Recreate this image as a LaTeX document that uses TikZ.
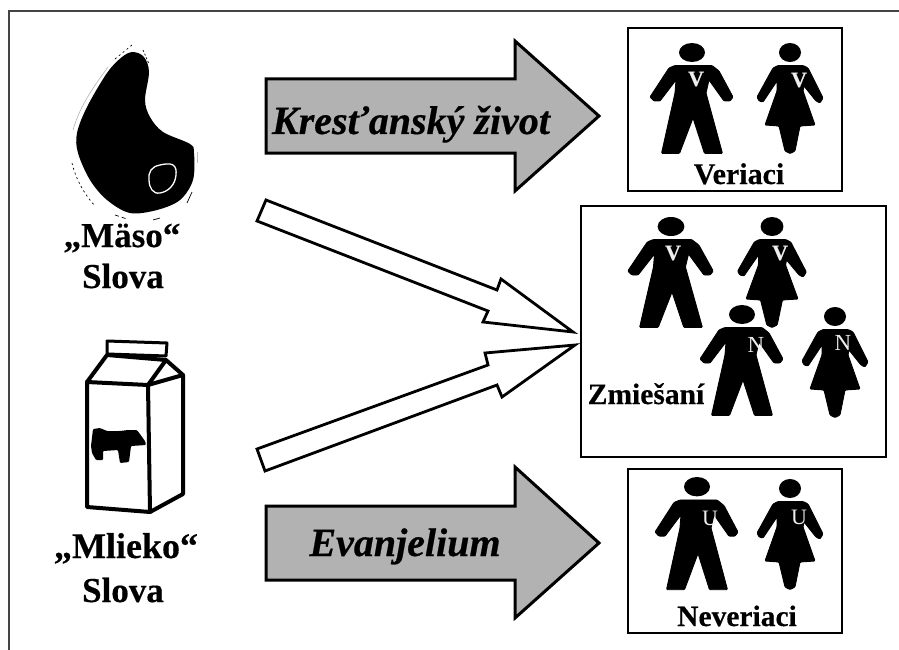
\documentclass[tikz,border=0pt]{standalone}
\usepackage{fontspec}
\setmainfont{Liberation Serif}[BoldFeatures={FakeBold=0.4},BoldItalicFeatures={FakeBold=0.5}]
\definecolor{framegray}{HTML}{444444}
\definecolor{arrowgray}{HTML}{B2B2B2}
\definecolor{badgewhite}{HTML}{EEEEEE}
\tikzset{
  x=1pt,y=-1pt,
  frameline/.style={draw=framegray,line width=2.7pt},
  boxframe/.style={draw=black,line width=1.9pt,fill=white},
  grayarrow/.style={draw=black,fill=arrowgray,line width=3pt,line join=miter},
  whitearrow/.style={draw=black,fill=white,line width=2.8pt,line join=miter},
  carton/.style={draw=black,line width=4pt,line join=round},
  figfill/.style={fill=black,draw=black,line width=.9pt,line join=round},
  lbl/.style={font=\fontsize{#1}{#1}\bfseries\selectfont,anchor=base,inner sep=0pt},
  ilbl/.style={font=\fontsize{#1}{#1}\bfseries\itshape\selectfont,anchor=base,inner sep=0pt},
  badge/.style={font=\fontsize{#1}{#1}\selectfont,anchor=center,inner sep=0pt,text=badgewhite},
}
\newcommand{\manfig}[4]{% centre x, top y, xscale, yscale
  \begin{scope}[shift={(#1,#2)},xscale=#3,yscale=#4]
    \fill[black] (0,9.5) ellipse [x radius=13,y radius=9.5];
    \filldraw[figfill,rounded corners=1pt] (0,22.5)--(20,22.5)--(27,28)--(41,54)--(38,58)--(32,58)--(17,37)--(14,50)--(30.5,110.5)--(12.5,110.5)--(1,75)--(-12.5,110.5)--(-30.5,110.5)--(-17,50)--(-16,37)--(-32,58)--(-38,58)--(-42,54)--(-23,25)--(-17,22.5)--cycle;
  \end{scope}}
\newcommand{\womanfig}[4]{%
  \begin{scope}[shift={(#1,#2)},xscale=#3,yscale=#4]
    \fill[black] (0,9.5) ellipse [x radius=11,y radius=9.5];
    \filldraw[figfill,rounded corners=1pt] (-12,22.5)--(13,22.5)--(18,25)--(33,55)--(30,60)--(26,58)--(14,43)--(13,48)--(25,82)--(10,83)--(5,108)--(0,110.5)--(-5,108)--(-11,83)--(-25,82)--(-13,48)--(-13,38)--(-27,59)--(-31,58)--(-33,54)--(-17,25)--cycle;
  \end{scope}}
\begin{document}
\begin{tikzpicture}
\useasboundingbox (0,0) rectangle (899,650);
\fill[white] (0,0) rectangle (899,650);
% outer frame (open at right and bottom)
\draw[frameline] (899,11) -- (9,11) -- (9,650);

% meat
\fill[black] plot[smooth cycle,tension=0.55] coordinates {(133,52)(144,57)(149,72)(145,100)(150,117)(163,132)(190,144)(194,153)(193,180)(180,200)(157,210)(130,213)(107,200)(90,180)(78,153)(77,133)(87,107)(107,73)(122,57)};
\draw[white,line width=1.3pt] plot[smooth cycle,tension=0.7] coordinates {(151,170)(160,165)(173,165)(176,175)(171,187)(160,193)(152,190)(149,180)};
\draw[gray!60,line width=.6pt] (73,130) .. controls (80,105) and (95,85) .. (108,67);
\draw[black,line width=.7pt,dash pattern=on 2pt off 3pt] (72,163) .. controls (76,180) and (85,195) .. (95,206);
\draw[black,line width=.7pt,dash pattern=on 2pt off 3pt] (115,59) -- (132,45);
\draw[black,line width=.7pt,dash pattern=on 2pt off 2pt] (143,50) -- (149,64);
\draw[black,line width=.7pt] (187,203) -- (192,192);
\draw[black,line width=.7pt,dash pattern=on 4pt off 3pt] (115,215) -- (127,219);
\draw[black,line width=.7pt] (153,220) -- (160,218);
\draw[gray!50,line width=.6pt] (197,152) -- (197,163);
\node[lbl=35] (masoA) at (122,247) {„Mäso“};
\node[lbl=35] (masoB) at (123,288) {Slova};

% milk carton
\draw[carton,line width=3pt] (107,341) -- (167,343) -- (166,356) -- (107,354) -- cycle;
\draw[carton,fill=white] (87,382) -- (148,385) -- (150,512) -- (87,507) -- cycle;
\draw[carton] (148,385) -- (183,375) -- (183,494) -- (150,512);
\draw[carton] (87,382) -- (107,355) -- (166,360) -- (148,385);
\draw[carton] (166,360) -- (183,375);
\fill[black,rounded corners=1pt] (93,429)--(100,428)--(107,431)--(120,431)--(128,430)--(137,430)--(145,441)--(146,445)--(131,446)--(129,462)--(120,463)--(118,450)--(103,451)--(103,460)--(96,460)--(92,453)--(91,446)--cycle;
\node[lbl=36] (milkA) at (126,558) {„Mlieko“};
\node[lbl=35] (milkB) at (123,602) {Slova};

% gray arrows
\draw[grayarrow] (266,79) -- (515,79) -- (515,41) -- (599,116) -- (515,191) -- (515,153) -- (266,153) -- cycle;
\node[ilbl=40] (krest) at (411,134) {Kresťanský život};
\draw[grayarrow] (266,506) -- (515,506) -- (515,467) -- (599,543) -- (515,618) -- (515,580) -- (266,580) -- cycle;
\node[ilbl=40] (evan) at (405,556) {Evanjelium};

% white arrows
\draw[whitearrow] (266,200) -- (497,290) -- (501,279) -- (573,332) -- (483,322) -- (488,311) -- (257,221) -- cycle;
\draw[whitearrow] (257,449) -- (488,365) -- (485,353) -- (575,345) -- (502,397) -- (497,385) -- (265,471) -- cycle;

% box 1
\draw[boxframe] (628,28) rectangle (842,191);
\manfig{692}{43}{1}{1}
\womanfig{790}{43}{1}{1}
\node[badge=22] (v1) at (696,79) {\bfseries V};
\node[badge=22] (v2) at (799,80) {\bfseries V};
\node[lbl=30] (ver) at (739,184) {Veriaci};

% box 2
\draw[boxframe] (581,206) rectangle (886,457);
\manfig{671}{217}{1.03}{1}
\womanfig{772}{217}{1.04}{1}
\manfig{742}{305}{1}{1}
\womanfig{835}{307}{1}{1}
\node[badge=22] (v3) at (673,253) {\bfseries V};
\node[badge=22] (v4) at (780,253) {\bfseries V};
\node[badge=23] (n1) at (756,345) {N};
\node[badge=23] (n2) at (843,343) {N};
\node[lbl=29.5] (zmi) at (646,404) {Zmiešaní};

% box 3
\draw[boxframe] (628,469) rectangle (842,633);
\manfig{697}{477}{1}{1.02}
\womanfig{790}{479}{1}{1}
\node[badge=22] (u1) at (710,518) {U};
\node[badge=22] (u2) at (799,517) {U};
\node[lbl=29.5] (nev) at (737,626) {Neveriaci};
\end{tikzpicture}
\end{document}
